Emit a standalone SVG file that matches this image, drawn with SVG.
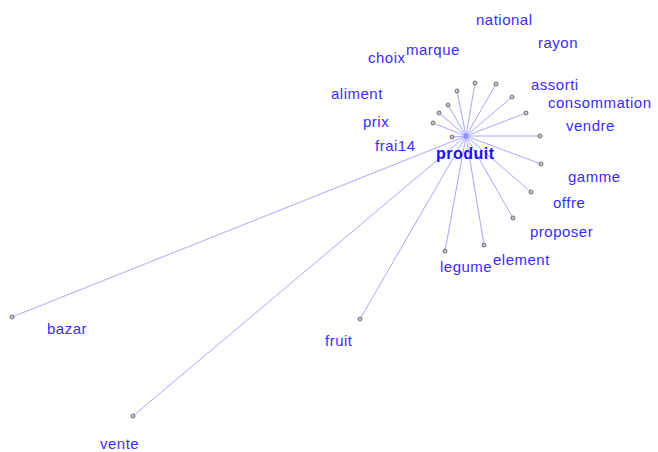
<svg xmlns="http://www.w3.org/2000/svg" width="658" height="452" viewBox="0 0 658 452">
<style>
.lbl{font-family:"Liberation Sans",Arial,sans-serif;font-size:15px;fill:#3a2cff;letter-spacing:0.5px}
.hub{font-family:"Liberation Sans",Arial,sans-serif;font-size:16px;font-weight:bold;fill:#1a10ff;letter-spacing:0.5px}
.edge{stroke:#a8a8ff;stroke-width:1;fill:none}
.pt{fill:#c8c8c8;stroke:#707070;stroke-width:1}
</style>
<rect width="658" height="452" fill="#ffffff"/>
<g id="connectors">
<line class="edge" x1="466" y1="136" x2="475" y2="83"/>
<line class="edge" x1="466" y1="136" x2="496" y2="84"/>
<line class="edge" x1="466" y1="136" x2="457" y2="91"/>
<line class="edge" x1="466" y1="136" x2="512" y2="97"/>
<line class="edge" x1="466" y1="136" x2="448" y2="105"/>
<line class="edge" x1="466" y1="136" x2="526" y2="113"/>
<line class="edge" x1="466" y1="136" x2="439" y2="113"/>
<line class="edge" x1="466" y1="136" x2="433" y2="123"/>
<line class="edge" x1="466" y1="136" x2="452" y2="137"/>
<line class="edge" x1="466" y1="136" x2="540" y2="136"/>
<line class="edge" x1="466" y1="136" x2="541" y2="164"/>
<line class="edge" x1="466" y1="136" x2="531" y2="192"/>
<line class="edge" x1="466" y1="136" x2="513" y2="218"/>
<line class="edge" x1="466" y1="136" x2="484" y2="245"/>
<line class="edge" x1="466" y1="136" x2="445" y2="251"/>
<line class="edge" x1="466" y1="136" x2="360" y2="319"/>
<line class="edge" x1="466" y1="136" x2="12" y2="317"/>
<line class="edge" x1="466" y1="136" x2="133" y2="416"/>
</g>
<g id="produit">
<circle cx="466" cy="136" r="2.5" fill="#8c8cff" opacity="0.8"/>
<text class="hub" x="436" y="159">produit</text>
</g>
<g id="national"><circle class="pt" cx="475" cy="83" r="2"/><text class="lbl" x="476" y="25">national</text></g>
<g id="rayon"><circle class="pt" cx="496" cy="84" r="2"/><text class="lbl" x="538" y="48">rayon</text></g>
<g id="marque"><circle class="pt" cx="457" cy="91" r="2"/><text class="lbl" x="406" y="55">marque</text></g>
<g id="choix"><circle class="pt" cx="448" cy="105" r="2"/><text class="lbl" x="368" y="63">choix</text></g>
<g id="assorti"><circle class="pt" cx="512" cy="97" r="2"/><text class="lbl" x="531" y="90">assorti</text></g>
<g id="consommation"><circle class="pt" cx="526" cy="113" r="2"/><text class="lbl" x="548" y="108">consommation</text></g>
<g id="aliment"><circle class="pt" cx="439" cy="113" r="2"/><text class="lbl" x="331" y="99">aliment</text></g>
<g id="prix"><circle class="pt" cx="433" cy="123" r="2"/><text class="lbl" x="363" y="127">prix</text></g>
<g id="frai14"><circle class="pt" cx="452" cy="137" r="2"/><text class="lbl" x="375" y="151">frai14</text></g>
<g id="vendre"><circle class="pt" cx="540" cy="136" r="2"/><text class="lbl" x="566" y="131">vendre</text></g>
<g id="gamme"><circle class="pt" cx="541" cy="164" r="2"/><text class="lbl" x="568" y="182">gamme</text></g>
<g id="offre"><circle class="pt" cx="531" cy="192" r="2"/><text class="lbl" x="553" y="208">offre</text></g>
<g id="proposer"><circle class="pt" cx="513" cy="218" r="2"/><text class="lbl" x="530" y="237">proposer</text></g>
<g id="element"><circle class="pt" cx="484" cy="245" r="2"/><text class="lbl" x="493" y="265">element</text></g>
<g id="legume"><circle class="pt" cx="445" cy="251" r="2"/><text class="lbl" x="440" y="272">legume</text></g>
<g id="fruit"><circle class="pt" cx="360" cy="319" r="2"/><text class="lbl" x="325" y="346">fruit</text></g>
<g id="bazar"><circle class="pt" cx="12" cy="317" r="2"/><text class="lbl" x="47" y="334">bazar</text></g>
<g id="vente"><circle class="pt" cx="133" cy="416" r="2"/><text class="lbl" x="100" y="449">vente</text></g>
</svg>
